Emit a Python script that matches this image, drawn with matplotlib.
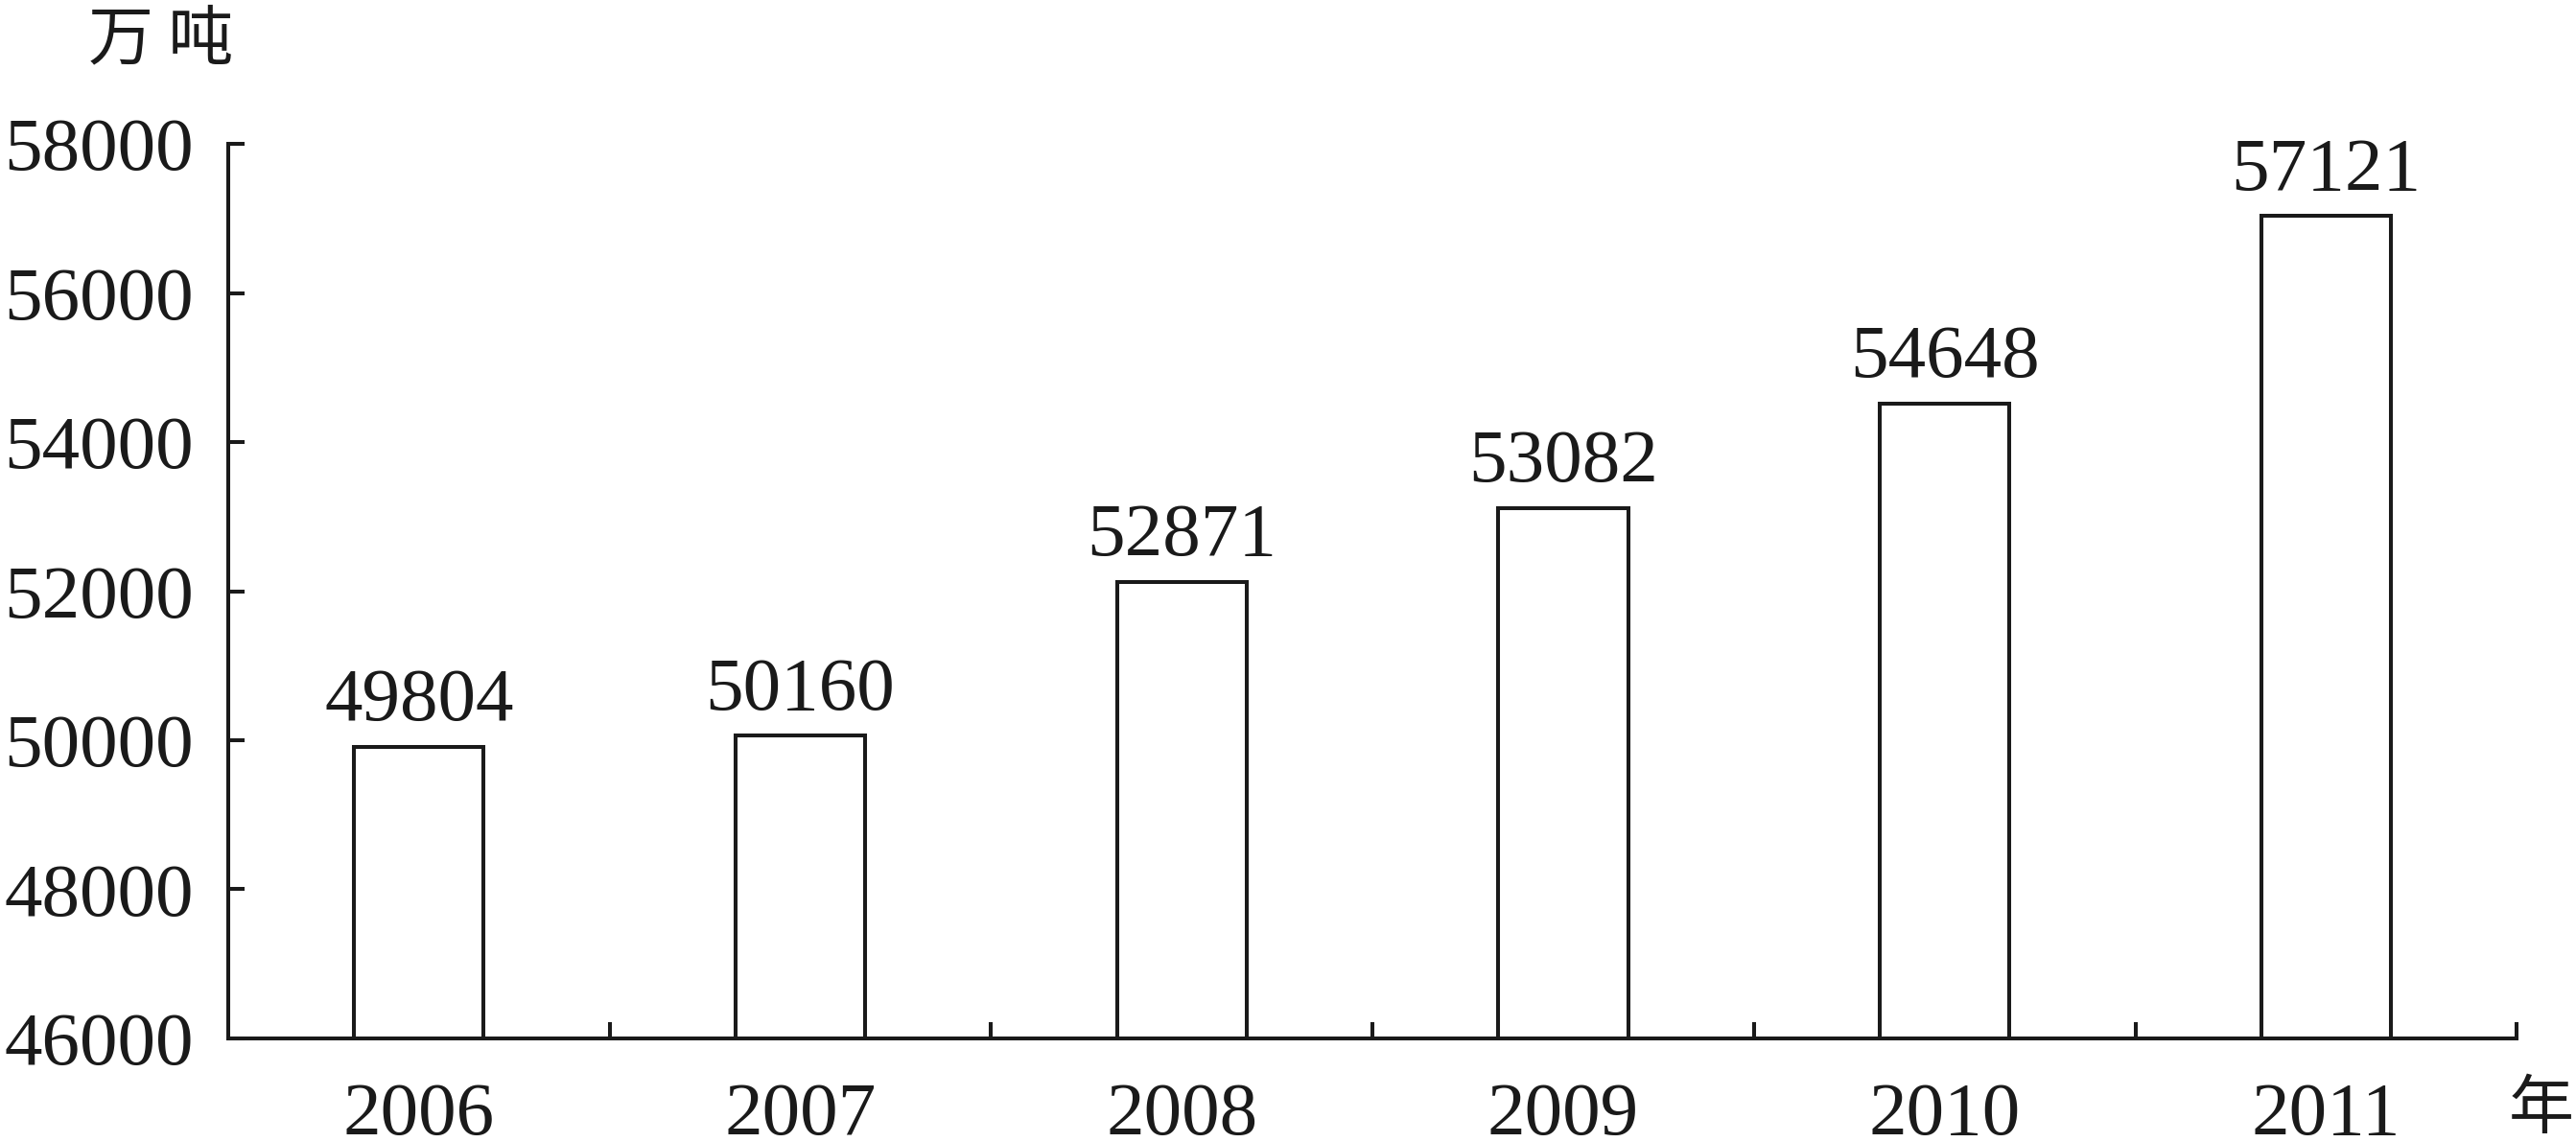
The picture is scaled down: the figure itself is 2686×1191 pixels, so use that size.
import matplotlib
matplotlib.use("Agg")
import matplotlib.pyplot as plt

plt.rcParams['font.family'] = ['Liberation Serif', 'Noto Sans CJK SC']

# data
years = ['2006', '2007', '2008', '2009', '2010', '2011']
bar_heights = [49910, 50060, 52120, 53110, 54520, 57030]   # heights as drawn
value_labels = ['49804', '50160', '52871', '53082', '54648', '57121']  # printed values
y_ticks = [46000, 48000, 50000, 52000, 54000, 56000, 58000]

ink = '#1a1a1a'
lw = 2.9
fs = 57

fig = plt.figure(figsize=(26.86, 11.91), dpi=100)
ax = fig.add_axes([0.0886, 0.0907, 0.977 - 0.0886, 0.874 - 0.0907])

x = list(range(len(years)))
ax.bar(x, [h - y_ticks[0] for h in bar_heights], bottom=y_ticks[0], width=0.34,
       facecolor='white', edgecolor=ink, linewidth=lw, zorder=3)

for xi, h, lab in zip(x, bar_heights, value_labels):
    ax.annotate(lab, (xi, h), xytext=(0, 20), textcoords='offset points',
                ha='center', va='baseline', fontsize=fs, color=ink)

ax.set_xlim(-0.5, len(years) - 0.5)
ax.set_ylim(y_ticks[0], y_ticks[-1])

# tick marks at category boundaries, labels at centers
ax.set_xticks([i + 0.5 for i in x])
ax.set_xticklabels([])
ax.set_xticks(x, minor=True)
ax.set_xticklabels(years, minor=True)
ax.tick_params(axis='x', which='major', direction='in', length=12, width=lw, color=ink)
ax.tick_params(axis='x', which='minor', length=0, pad=33, labelsize=fs, labelcolor=ink)

ax.set_yticks(y_ticks)
ax.set_yticklabels([str(t) for t in y_ticks])
ax.tick_params(axis='y', direction='in', length=12, width=lw, color=ink,
               pad=26, labelsize=fs, labelcolor=ink)

for s in ['top', 'right']:
    ax.spines[s].set_visible(False)
for s in ['left', 'bottom']:
    ax.spines[s].set_linewidth(lw)
    ax.spines[s].set_color(ink)

fig.text(168 / 2686, 1 - 42 / 1191, '万 吨', ha='center', va='center',
         fontsize=49, color=ink, family='Noto Sans CJK SC')
fig.text(2650 / 2686, 1 - 1158 / 1191, '年', ha='center', va='center',
         fontsize=49, color=ink, family='Noto Sans CJK SC')

fig.savefig('out.png', dpi=100, facecolor='white')
